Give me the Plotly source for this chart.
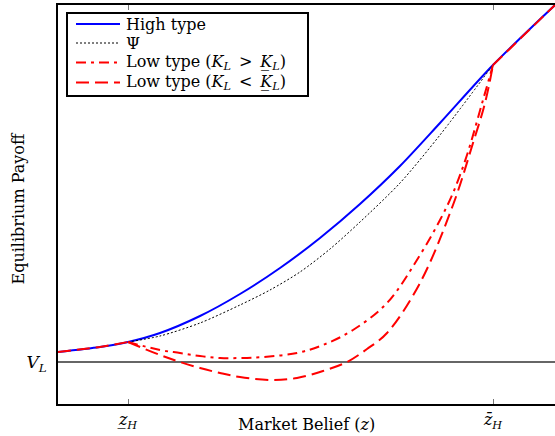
import plotly.graph_objects as go

# Market belief z (arbitrary units) and payoffs (arbitrary units)
z_low_H = 70
z_bar_H = 435
V_L = 42

# shared segments (low type coincides with high type)
left_z = [0, 42, 70]
left_y = [52, 57, 62]
right_z = [435, 497]
right_y = [339, 399]

high_z = [70, 102, 142, 182, 222, 262, 302, 342, 382, 435]
high_y = [62, 71, 88, 110, 136, 166, 200, 238, 281, 339]

psi_z = [70, 102, 142, 182, 212, 242, 272, 302, 342, 382, 435]
psi_y = [62, 68, 81, 99, 114, 132, 155, 182, 221, 269, 339]

low_hi_z = [70, 102, 122, 142, 162, 182, 205, 239, 265, 295, 329, 362, 382, 395, 409, 425, 435]
low_hi_y = [62, 54, 51, 48, 46, 46, 47, 51, 59, 74, 101, 149, 184, 211, 249, 304, 339]

low_lo_z = [70, 102, 122, 142, 162, 182, 215, 239, 265, 289, 309, 329, 362, 395, 415, 427, 435]
low_lo_y = [62, 49, 42, 36, 31, 27, 24, 26, 33, 42, 55, 71, 121, 199, 261, 301, 339]

x_ticks = [z_low_H, z_bar_H]
x_ticktext = ["<i>z̲</i><sub><i>H</i></sub>", "<i>z̄</i><sub><i>H</i></sub>"]
y_ticks = [V_L]
y_ticktext = ["<i>V</i><sub><i>L</i></sub>"]

legend_labels = [
    "High type",
    "Ψ",
    "Low type (<i>K</i><sub><i>L</i></sub>\u2002&gt;\u2002<i>K̲</i><sub><i>L</i></sub>)",
    "Low type (<i>K</i><sub><i>L</i></sub>\u2002&lt;\u2002<i>K̲</i><sub><i>L</i></sub>)",
]

BLUE = "#0000ff"
RED = "#ff0000"
FONT = "DejaVu Serif"
DASHDOT = "10px,5px,3px,5px"
DASHED = "13px,6px"
DOTTED = "2px,2px"

styles = [
    dict(color=BLUE, width=2, dash="solid"),
    dict(color="black", width=1, dash=DOTTED),
    dict(color=RED, width=2, dash=DASHDOT),
    dict(color=RED, width=2, dash=DASHED),
]

fig = go.Figure()
fig.add_trace(go.Scatter(x=left_z + high_z[1:] + right_z[1:],
                         y=left_y + high_y[1:] + right_y[1:],
                         mode="lines", name="High type", showlegend=False,
                         line=dict(**styles[0], shape="spline", smoothing=0.8)))
fig.add_trace(go.Scatter(x=psi_z, y=psi_y, mode="lines", name="Ψ", showlegend=False,
                         line=dict(**styles[1], shape="spline", smoothing=0.8)))
fig.add_trace(go.Scatter(x=low_hi_z, y=low_hi_y, mode="lines", name="Low type (K_L > K_L)",
                         showlegend=False,
                         line=dict(**styles[2], shape="spline", smoothing=1.0)))
fig.add_trace(go.Scatter(x=low_lo_z, y=low_lo_y, mode="lines", name="Low type (K_L < K_L)",
                         showlegend=False,
                         line=dict(**styles[3], shape="spline", smoothing=1.0)))
fig.add_trace(go.Scatter(x=left_z, y=left_y, mode="lines", showlegend=False,
                         line=dict(color=RED, width=2, dash=DASHED)))
fig.add_trace(go.Scatter(x=right_z, y=right_y, mode="lines", showlegend=False,
                         line=dict(color=RED, width=2, dash=DASHED)))

# ---- legend box drawn in paper coordinates (plot area fractions)
PW, PH = 497.0, 399.0
def px2x(px):
    return (px - 58) / PW
def py2y(py):
    return (404 - py) / PH

shapes = [dict(type="rect", xref="paper", yref="paper",
               x0=px2x(67), x1=px2x(308), y0=py2y(96), y1=py2y(13),
               line=dict(color="black", width=2), fillcolor="white", layer="above")]
annotations = []
row_py = [24, 43, 62.5, 82.5]
for lab, st, rp in zip(legend_labels, styles, row_py):
    shapes.append(dict(type="line", xref="paper", yref="paper",
                       x0=px2x(76), x1=px2x(120), y0=py2y(rp), y1=py2y(rp),
                       line=st, layer="above"))
    annotations.append(dict(text=lab, xref="paper", yref="paper",
                            x=px2x(124), y=py2y(rp), xanchor="left", yanchor="middle",
                            showarrow=False, font=dict(size=16)))

annotations += [
    dict(text="Market Belief (<i>z</i>)", xref="paper", yref="paper",
         x=0.5, y=py2y(424), xanchor="center", yanchor="middle",
         showarrow=False, font=dict(size=16)),
    dict(text="Equilibrium Payoff", xref="paper", yref="paper",
         x=px2x(18), y=0.49, xanchor="center", yanchor="middle",
         textangle=-90, showarrow=False, font=dict(size=16)),
]

fig.update_layout(
    width=555, height=436,
    margin=dict(l=58, r=0, t=5, b=32),
    plot_bgcolor="white", paper_bgcolor="white",
    font=dict(family=FONT, size=16, color="black"),
    showlegend=False,
    xaxis=dict(range=[0, 497], tickvals=x_ticks, ticktext=x_ticktext,
               showline=True, linecolor="black", linewidth=2, mirror="ticks",
               ticks="inside", ticklen=5, tickcolor="#777", tickwidth=1,
               showgrid=False, zeroline=False, tickfont=dict(size=16)),
    yaxis=dict(range=[0, 399], tickvals=y_ticks, ticktext=y_ticktext,
               showline=True, linecolor="black", linewidth=2, mirror=False,
               ticks="", showgrid=True, gridcolor="#666", gridwidth=1.5,
               zeroline=False, tickfont=dict(size=17), ticklabelstandoff=6),
    shapes=shapes,
    annotations=annotations,
)

fig.write_html("out.html", config={"displayModeBar": False},
               post_script="document.body.style.margin='0';document.body.style.overflow='hidden';")
